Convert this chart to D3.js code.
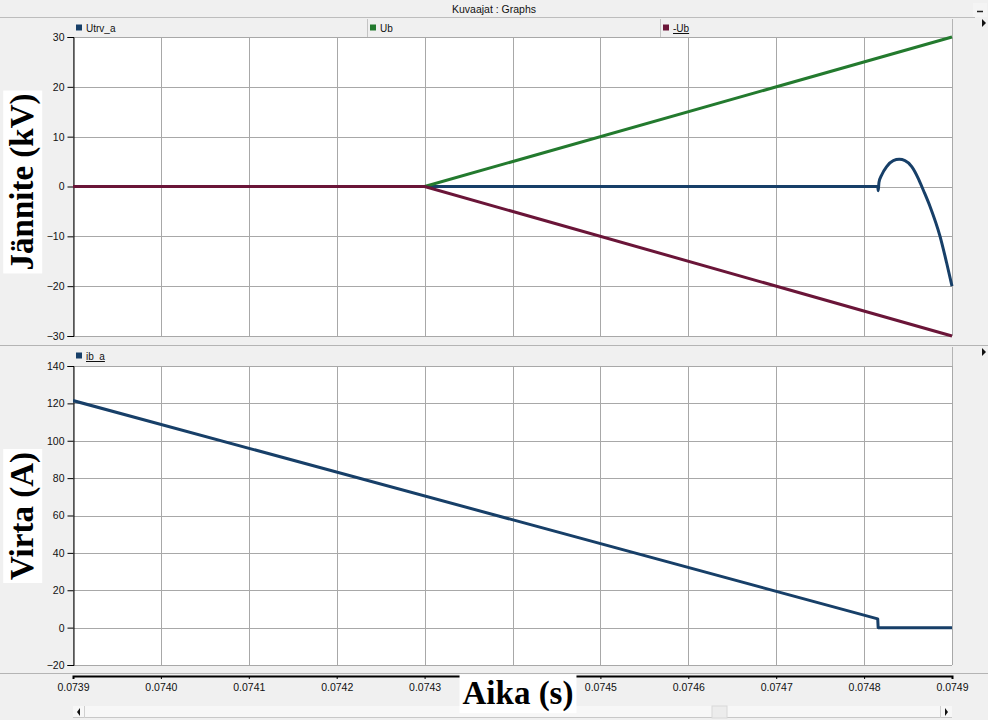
<!DOCTYPE html>
<html><head><meta charset="utf-8">
<script src="https://cdn.jsdelivr.net/npm/d3@7"></script>
<style>
html,body{margin:0;padding:0;background:#f0f0f0;overflow:hidden}
svg{display:block}
</style></head>
<body>
<script>
// ---- data ----
const timeTicks = [0.0739,0.0740,0.0741,0.0742,0.0743,0.0744,0.0745,0.0746,0.0747,0.0748,0.0749];
const voltTicks = [-30,-20,-10,0,10,20,30];
const currTicks = [-20,0,20,40,60,80,100,120,140];

const ubTime = [0.0739, 0.0743, 0.0749];
const ubVal  = [0, 0, 30];
const negUbVal = [0, 0, -30];

const utrvTime = [0.0739, 0.0748155, 0.0748161, 0.0748169, 0.0748200, 0.0748257, 0.0748332, 0.0748400,
                  0.0748465, 0.0748542, 0.0748617, 0.0748673, 0.0748750, 0.0748864, 0.0748940, 0.0749];
const utrvVal  = [0, 0, -0.85, 0.8, 2.3, 4.0, 5.2, 5.45, 5.2, 4.0, 1.6, -0.7, -4.0, -10.0, -15.4, -20.0];

const ibTime = [0.0739, 0.0748155, 0.0748160, 0.0749];
const ibVal  = [121.5, 4.7, 0, 0];

const seriesUpper = [
  {name:"Utrv_a", color:"#173f68", time:utrvTime, val:utrvVal, legendX:76, underline:false, smooth:true},
  {name:"Ub", color:"#237a2e", time:ubTime, val:ubVal, legendX:370, underline:false, smooth:false},
  {name:"-Ub", color:"#6a1538", time:ubTime, val:negUbVal, legendX:663, underline:true, smooth:false}
];
const seriesLower = [
  {name:"ib_a", color:"#173f68", time:ibTime, val:ibVal, legendX:76, underline:true, smooth:false}
];

// ---- layout ----
const W = 988, H = 720;
const L = 73, R = 952;
const up = {top:37, bottom:336, legendTop:19};
const lo = {top:366, bottom:665, legendTop:347};
const SANS = "Liberation Sans, Arial, sans-serif";
const SERIF = "Liberation Serif, Times New Roman, serif";

const svg = d3.select("body").append("svg").attr("width",W).attr("height",H);
svg.append("rect").attr("width",W).attr("height",H).attr("fill","#f0f0f0");

// title bar
svg.append("text").attr("x",494).attr("y",13).attr("text-anchor","middle").style("font-family",SANS)
  .attr("font-size",10.5).attr("fill","#111").text("Kuvaajat : Graphs");
svg.append("line").attr("x1",0).attr("x2",975).attr("y1",17.5).attr("y2",17.5).attr("stroke","#bdbdbd");
svg.append("rect").attr("x",973).attr("y",3).attr("width",14).attr("height",14).attr("fill","#f4f4f4");
svg.append("line").attr("x1",977).attr("x2",983).attr("y1",11.5).attr("y2",11.5).attr("stroke","#222").attr("stroke-width",1.5);

const x = d3.scaleLinear().domain([0.0739,0.0749]).range([L,R]);

function panel(cfg, domain, ticks, series, triY){
  const y = d3.scaleLinear().domain(domain).range([cfg.bottom,cfg.top]);
  svg.append("rect").attr("x",L).attr("y",cfg.legendTop).attr("width",R-L).attr("height",cfg.top-cfg.legendTop)
    .attr("fill","#f0f0f0");
  svg.append("line").attr("x1",R+0.5).attr("x2",R+0.5).attr("y1",cfg.legendTop).attr("y2",cfg.bottom)
    .attr("stroke","#b4b4b4");
  svg.append("rect").attr("x",L).attr("y",cfg.top).attr("width",R-L).attr("height",cfg.bottom-cfg.top).attr("fill","#fff");
  const g = svg.append("g");
  g.selectAll("line.v").data(timeTicks).enter().append("line")
    .attr("x1",d=>Math.round(x(d))+0.5).attr("x2",d=>Math.round(x(d))+0.5)
    .attr("y1",cfg.top).attr("y2",cfg.bottom).attr("stroke","#a8a8a8");
  g.selectAll("line.h").data(ticks).enter().append("line")
    .attr("x1",L).attr("x2",R).attr("y1",d=>Math.round(y(d))+0.5).attr("y2",d=>Math.round(y(d))+0.5)
    .attr("stroke","#a8a8a8");
  const ax = svg.append("g").attr("transform",`translate(${L+0.5},0)`)
    .call(d3.axisLeft(y).tickValues(ticks).tickSize(6).tickPadding(3).tickFormat(d3.format("d")));
  ax.select(".domain").attr("stroke","#000");
  ax.selectAll(".tick line").attr("stroke","#000");
  ax.selectAll("text").attr("font-size",10.5).attr("fill","#111").style("font-family",SANS);
  const clipId = "clip"+cfg.top;
  svg.append("clipPath").attr("id",clipId).append("rect")
    .attr("x",L).attr("y",cfg.top-3).attr("width",R-L+2).attr("height",cfg.bottom-cfg.top+6);
  const lg = svg.append("g").attr("clip-path",`url(#${clipId})`);
  series.forEach(s=>{
    const pts = s.time.map((t,i)=>[t,s.val[i]]);
    lg.append("path").datum(pts)
      .attr("d",d3.line().x(d=>x(d[0])).y(d=>y(d[1])).curve(s.smooth?d3.curveMonotoneX:d3.curveLinear))
      .attr("fill","none").attr("stroke",s.color).attr("stroke-width",3)
      .attr("stroke-linejoin","round").attr("stroke-linecap","butt");
    const ly = cfg.legendTop + 9;
    svg.append("rect").attr("x",s.legendX).attr("y",ly-3.5).attr("width",6).attr("height",6).attr("fill",s.color);
    const tx = svg.append("text").attr("x",s.legendX+10).attr("y",ly+3.5).attr("font-size",10).style("font-family",SANS)
      .attr("fill","#111").text(s.name);
    if(s.underline){
      const w = tx.node().getComputedTextLength();
      svg.append("line").attr("x1",s.legendX+10).attr("x2",s.legendX+10+w).attr("y1",ly+5.5).attr("y2",ly+5.5)
        .attr("stroke","#111");
    }
  });
  if(series.length>1){
    [367,660].forEach(sx=>svg.append("line").attr("x1",sx+0.5).attr("x2",sx+0.5)
      .attr("y1",cfg.legendTop).attr("y2",cfg.top).attr("stroke","#c4c4c4"));
  }
  svg.append("path").attr("d",`M${982},${triY-4} L${986},${triY} L${982},${triY+4} Z`).attr("fill","#111");
  return y;
}

panel(up,[-30,30],voltTicks,seriesUpper,23);
svg.append("line").attr("x1",0).attr("x2",W).attr("y1",345.5).attr("y2",345.5).attr("stroke","#b4b4b4");
panel(lo,[-20,140],currTicks,seriesLower,352);

svg.append("line").attr("x1",0).attr("x2",W).attr("y1",673.5).attr("y2",673.5).attr("stroke","#b4b4b4");
const xa = svg.append("g").attr("transform","translate(0,676)")
  .call(d3.axisBottom(x).tickValues(timeTicks).tickSize(3).tickPadding(5).tickFormat(d3.format(".4f")));
xa.select(".domain").attr("stroke","#000").attr("stroke-width",2);
xa.selectAll(".tick line").attr("stroke","#000");
xa.selectAll("text").attr("font-size",10.5).attr("fill","#111").style("font-family",SANS);

// scrollbar
svg.append("rect").attr("x",L).attr("y",706).attr("width",R-L).attr("height",12).attr("fill","#f7f7f7");
svg.append("line").attr("x1",L).attr("x2",R).attr("y1",717.5).attr("y2",717.5).attr("stroke","#c8c8c8");
svg.append("rect").attr("x",712).attr("y",706).attr("width",15).attr("height",12).attr("fill","#ececec").attr("stroke","#d8d8d8");
svg.append("path").attr("d","M80,708 L77,712 L80,716 Z").attr("fill","#111");
svg.append("path").attr("d","M945,708 L948,712 L945,716 Z").attr("fill","#111");
svg.append("line").attr("x1",84.5).attr("x2",84.5).attr("y1",706).attr("y2",718).attr("stroke","#d0d0d0");
svg.append("line").attr("x1",940.5).attr("x2",940.5).attr("y1",706).attr("y2",718).attr("stroke","#d0d0d0");

// big axis titles
function bigLabel(txt, cx, cy, rotate){
  const g = svg.append("g").attr("transform",`translate(${cx},${cy}) rotate(${rotate})`);
  const t = g.append("text").attr("text-anchor","middle").attr("dy","0.34em")
    .style("font-family",SERIF).attr("font-weight","bold")
    .attr("font-size",33).attr("fill","#000").text(txt);
  const bb = t.node().getBBox();
  g.insert("rect","text").attr("x",bb.x-3).attr("y",bb.y-1).attr("width",bb.width+6).attr("height",bb.height+2)
    .attr("fill","#fff");
}
bigLabel("Jännite (kV)",22,182,-90);
bigLabel("Virta (A)",22,516,-90);
bigLabel("Aika (s)",518,693,0);
</script>
</body></html>
